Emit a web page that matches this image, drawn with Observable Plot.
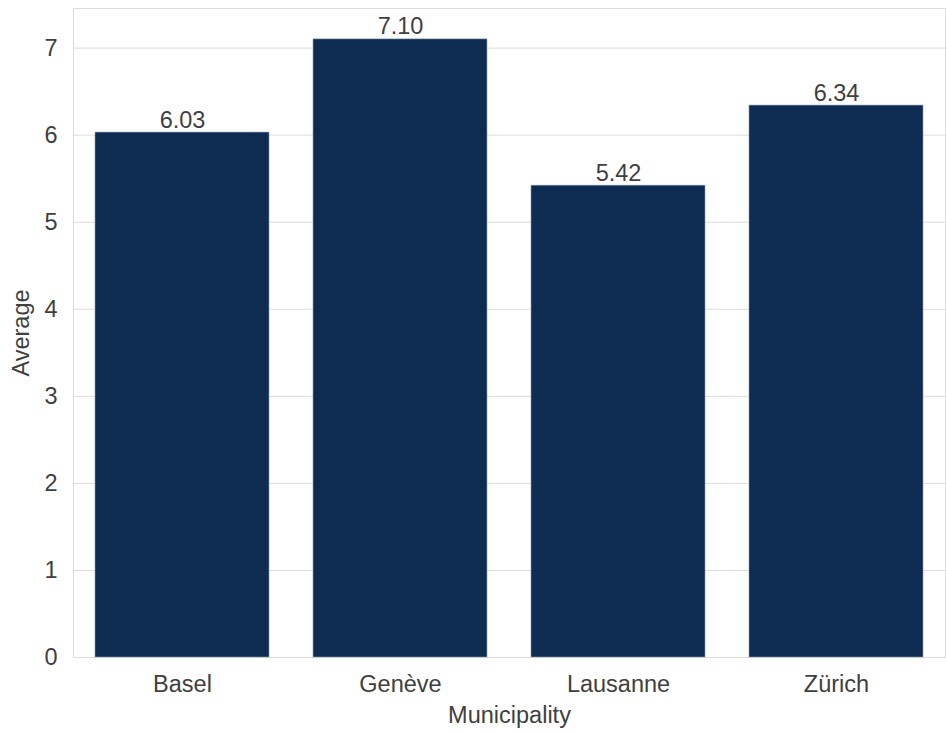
<!DOCTYPE html>
<html>
<head>
<meta charset="utf-8">
<script src="https://cdn.jsdelivr.net/npm/d3@7"></script>
<script src="https://cdn.jsdelivr.net/npm/@observablehq/plot@0.6"></script>
<style>
  html, body { margin: 0; padding: 0; background: #fff; }
</style>
</head>
<body>
<div id="chart"></div>
<script>
const municipalities = ["Basel", "Genève", "Lausanne", "Zürich"];
const averages = [6.03, 7.10, 5.42, 6.34];
const yTicks = [0, 1, 2, 3, 4, 5, 6, 7];

const data = municipalities.map((m, i) => ({municipality: m, average: averages[i]}));

const FS = 23.5;
const chart = Plot.plot({
  width: 946,
  height: 733,
  marginTop: 8,
  marginLeft: 73,
  marginRight: 1,
  marginBottom: 76,
  style: {fontFamily: "'Liberation Sans', Arial, sans-serif", fontSize: FS + "px", color: "#3f3f3f", background: "#fff"},
  x: {domain: municipalities, paddingInner: 0.2, paddingOuter: 0.1},
  y: {domain: [0, 7.455]},
  marks: [
    Plot.gridY(yTicks, {stroke: "#dcdcdc", strokeOpacity: 1, strokeWidth: 1}),
    Plot.frame({stroke: "#dcdcdc", strokeWidth: 1}),
    Plot.barY(data, {x: "municipality", y: "average", fill: "#0e2b52", stroke: "#8c9bb0", strokeWidth: 0.6}),
    Plot.text(data, {x: "municipality", y: "average", text: d => d.average.toFixed(2), dy: -5, lineAnchor: "bottom", fill: "#3f3f3f", fontSize: FS}),
    Plot.axisY(yTicks, {tickSize: 0, tickPadding: 16, fontSize: FS, fill: "#3f3f3f", label: "Average", labelAnchor: "center", labelOffset: 61, labelArrow: "none", tickFormat: d => String(d)}),
    Plot.axisX({tickSize: 0, tickPadding: 18, fontSize: FS, fill: "#3f3f3f", label: "Municipality", labelAnchor: "center", labelOffset: 65, labelArrow: "none"})
  ]
});
document.getElementById("chart").appendChild(chart);
</script>
</body>
</html>
